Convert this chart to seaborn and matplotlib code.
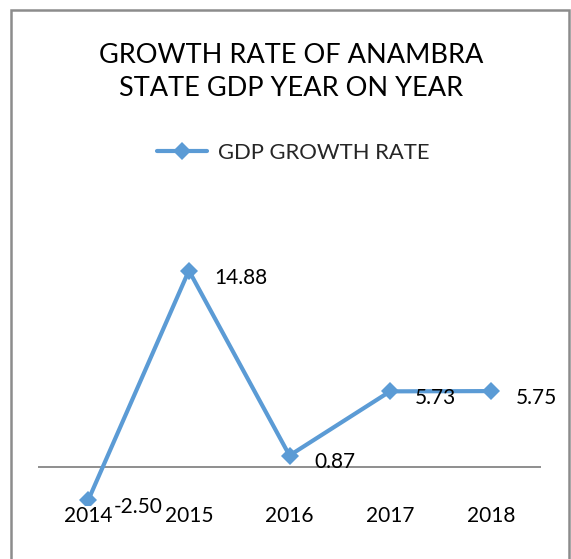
import matplotlib
matplotlib.use("Agg")
import matplotlib.pyplot as plt
from matplotlib.patches import Rectangle
import seaborn as sns
import pandas as pd

years = ["2014", "2015", "2016", "2017", "2018"]
growth = [-2.50, 14.88, 0.87, 5.73, 5.75]
series_name = "GDP GROWTH RATE"
title = "GROWTH RATE OF ANAMBRA\nSTATE GDP YEAR ON YEAR"

sns.set_theme(style="white")
plt.rcParams["font.family"] = ["Lato", "DejaVu Sans"]

W, H = 571, 559
fig = plt.figure(figsize=(W / 100, H / 100), dpi=100)
fig.patch.set_facecolor("white")

# plot area in pixel coordinates
left, right, top, bottom = 38, 541, 203, 505
ax = fig.add_axes([left / W, 1 - bottom / H, (right - left) / W, (bottom - top) / H])

df = pd.DataFrame({"year": years, "growth": growth})
blue = "#5B9BD5"
sns.lineplot(data=df, x="year", y="growth", ax=ax, color=blue, lw=3,
             marker="D", markersize=9, markeredgewidth=0, label=series_name,
             legend=False)

ax.set_xlim(-0.5, len(years) - 0.5)
ax.set_ylim(-2.88, 20)
ax.axhline(0, color="#868686", lw=1.3, zorder=0)
for s in ax.spines.values():
    s.set_visible(False)
ax.set_yticks([])
ax.set_xlabel("")
ax.set_ylabel("")
ax.set_xticks(range(len(years)))
ax.set_xticklabels(years, fontsize=15, color="black")
ax.tick_params(axis="x", length=0, pad=1)
ax.set_facecolor("none")

for i, v in enumerate(growth):
    ax.annotate(f"{v:.2f}", (i, v), xytext=(18, -5), textcoords="offset points",
                ha="left", va="center", fontsize=15, color="black")

fig.text(291 / W, 1 - 72 / H, title, ha="center", va="center", fontsize=19.5,
         linespacing=1.4, color="black")

handles, labels = ax.get_legend_handles_labels()
fig.legend(handles, labels, loc="center", bbox_to_anchor=(293 / W, 1 - 153 / H),
           frameon=False, fontsize=15.8, handlelength=2.3, handletextpad=0.5)

fig.add_artist(Rectangle((11 / W, -0.05), (569 - 11) / W, 1.05 - 10 / H,
                         transform=fig.transFigure, fill=False,
                         edgecolor="#8c8c8c", lw=1.8))

fig.savefig("out.png", dpi=100)
